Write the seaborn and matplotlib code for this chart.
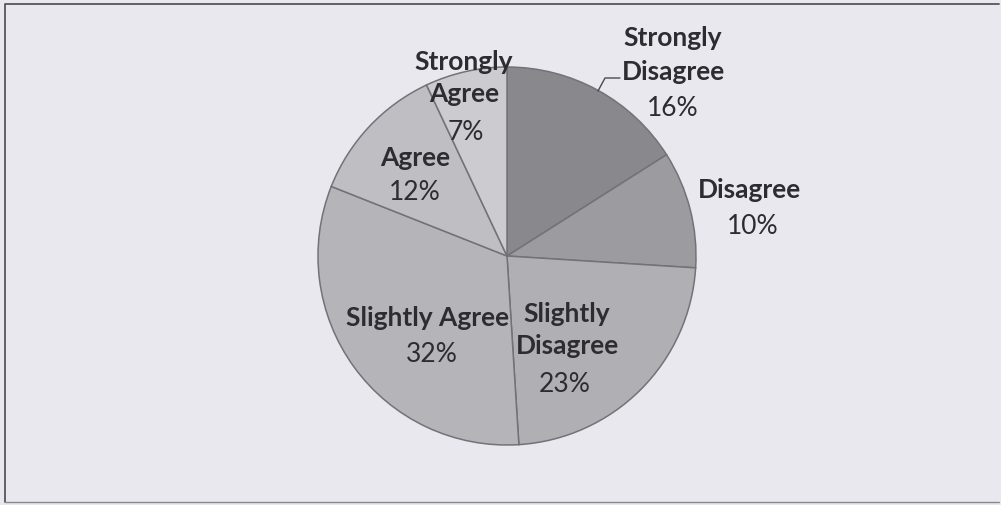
import matplotlib
matplotlib.use("Agg")
import matplotlib.pyplot as plt
import seaborn as sns

# ---- data ----
categories = ["Strongly Disagree", "Disagree", "Slightly Disagree",
              "Slightly Agree", "Agree", "Strongly Agree"]
percents = [16, 10, 23, 32, 12, 7]
label_texts = ["Strongly\nDisagree", "Disagree", "Slightly\nDisagree",
               "Slightly Agree", "Agree", "Strongly\nAgree"]

# ---- style ----
sns.set_theme(style="white")
plt.rcParams["font.family"] = ["Lato", "DejaVu Sans"]

slice_colors = ["#88888d", "#9b9ba0", "#afafb4", "#b4b4b9", "#bebec3", "#cbcbd0"]
bg = "#e9e8ef"
W, H = 1001, 505

fig = plt.figure(figsize=(W / 100, H / 100), dpi=100, facecolor=bg)
ax = fig.add_axes([0, 0, 1, 1])
ax.set_facecolor(bg)

cx, cy_img, R = 507, 256, 189
wedges, _ = ax.pie(percents, colors=slice_colors, startangle=90, counterclock=False,
                   center=(cx, H - cy_img), radius=R, frame=True,
                   wedgeprops=dict(edgecolor="#727278", linewidth=1.1))
ax.set_xlim(0, W)
ax.set_ylim(0, H)
ax.set_aspect("auto")
ax.axis("off")

# label layout (image pixel coords of the name block centre and the percent)
name_pos = [(673, 55), (750, 190), (567, 330), (428, 318), (415, 158), (464, 78)]
pct_pos = [(673, 108), (753, 227), (565, 385), (432, 355), (415, 193), (466, 132)]
fs = 19
txt_color = "#2c2c31"
for name, pct, (nx, ny), (px, py) in zip(label_texts, percents, name_pos, pct_pos):
    ax.text(nx, H - ny, name, ha="center", va="center", fontsize=fs,
            fontweight="bold", color=txt_color, linespacing=1.45)
    ax.text(px, H - py, f"{pct}%", ha="center", va="center", fontsize=fs,
            color=txt_color)

# leader line for Strongly Disagree
ax.plot([598, 605, 620], [H - 91, H - 78, H - 78], color="#4a4a50", lw=1.0)

# frame border
ax.plot([5, 5, 999], [H - 502, H - 4, H - 4], color="#55555a", lw=1.3)
ax.plot([5, 999], [H - 502, H - 502], color="#88888d", lw=1.0)

fig.savefig("out.png", dpi=100, facecolor=bg)
